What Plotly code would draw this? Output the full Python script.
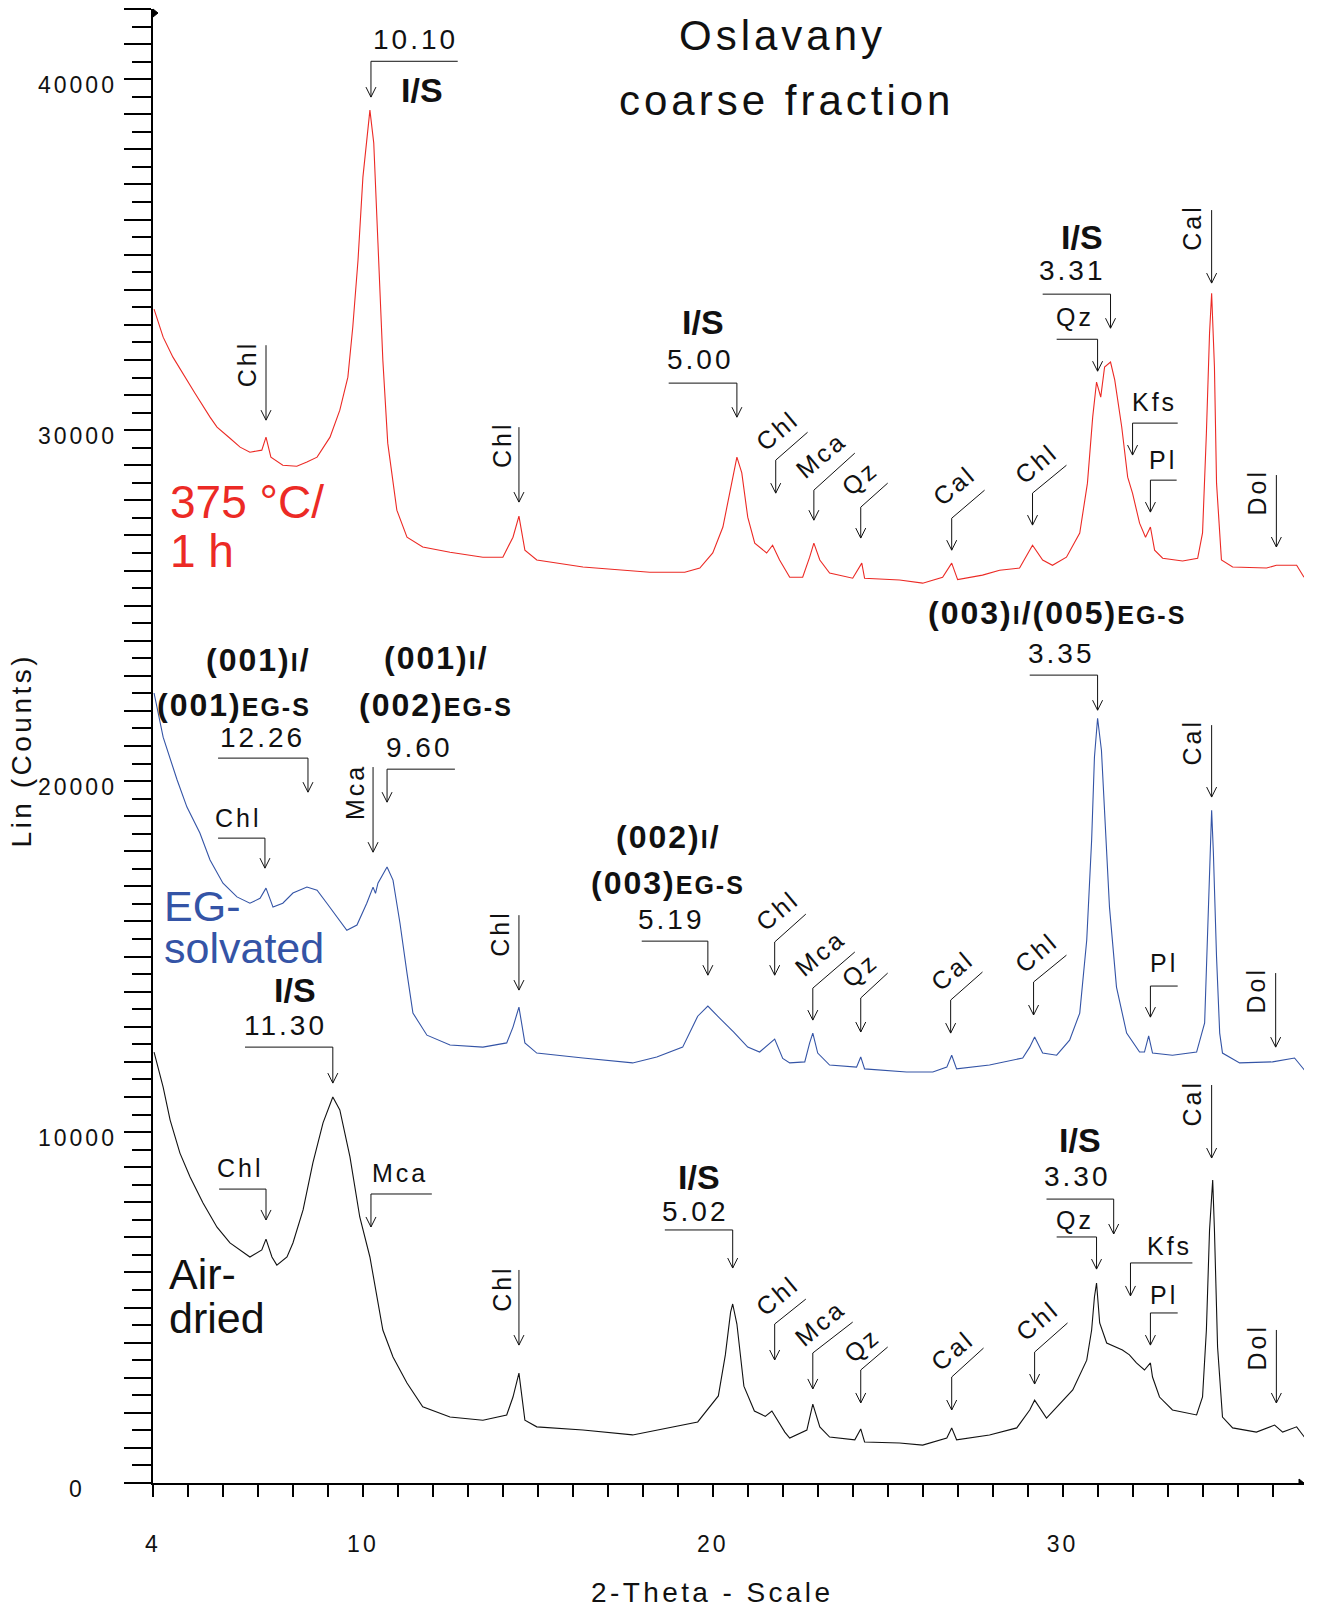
import plotly.graph_objects as go

# ---------------- data ----------------
red_theta = [4.03, 4.29, 4.57, 4.83, 5.2, 5.63, 5.83, 6.2, 6.49, 6.77, 7.11, 7.23, 7.37, 7.71, 8.11, 8.4, 8.69,
             9.06, 9.34, 9.57, 9.71, 9.86, 10.0, 10.2, 10.31, 10.43, 10.57, 10.71, 10.97, 11.26, 11.71, 12.49,
             13.43, 14.0, 14.29, 14.46, 14.63, 14.97, 16.29, 18.2, 19.2, 19.63, 20.0, 20.29, 20.54, 20.69, 20.83,
             21.0, 21.2, 21.54, 21.71, 21.91, 22.2, 22.57, 22.77, 22.89, 23.06, 23.34, 24.0, 24.26, 24.34, 25.34,
             26.0, 26.57, 26.83, 27.0, 27.71, 28.2, 28.77, 29.0, 29.14, 29.43, 29.71, 30.11, 30.49, 30.71, 30.86,
             30.97, 31.09, 31.2, 31.37, 31.49, 31.69, 31.86, 32.0, 32.2, 32.37, 32.51, 32.63, 32.86, 33.43, 33.86,
             34.0, 34.11, 34.2, 34.26, 34.34, 34.4, 34.54, 34.86, 35.83, 36.11, 36.69, 36.9]
red_counts = [33450, 32650, 32080, 31650, 31050, 30370, 30085, 29770, 29515, 29370, 29430, 29800, 29230, 29000,
              28970, 29090, 29230, 29800, 30570, 31510, 32930, 34840, 37210, 39120, 38180, 35330, 31990, 29630,
              27720, 26950, 26670, 26520, 26380, 26380, 26950, 27550, 26580, 26300, 26100, 25950, 25950, 26070,
              26500, 27240, 28490, 29230, 28780, 27520, 26780, 26500, 26720, 26300, 25810, 25810, 26380, 26780,
              26300, 25930, 25780, 26210, 25780, 25730, 25640, 25810, 26210, 25740, 25870, 26010, 26070, 26500,
              26720, 26300, 26150, 26380, 27070, 28490, 30370, 31370, 30940, 31800, 31940, 31430, 30090, 28660,
              28200, 27350, 26950, 27240, 26580, 26350, 26270, 26350, 27070, 29910, 32760, 33900, 31800, 28490,
              26300, 26100, 26070, 26150, 26150, 25810]

blue_theta = [4.03, 4.29, 4.69, 4.97, 5.34, 5.63, 6.0, 6.4, 6.77, 7.06, 7.23, 7.43, 7.71, 8.0, 8.4, 8.69, 8.97,
              9.26, 9.54, 9.83, 10.11, 10.29, 10.36, 10.43, 10.69, 10.86, 11.06, 11.26, 11.43, 11.83, 12.49, 13.43,
              14.11, 14.29, 14.46, 14.63, 14.97, 16.29, 17.71, 18.4, 19.14, 19.57, 19.86, 20.14, 20.6, 21.0, 21.34,
              21.77, 22.0, 22.2, 22.63, 22.77, 22.86, 23.0, 23.34, 24.11, 24.23, 24.34, 25.54, 26.29, 26.69, 26.83,
              26.97, 27.91, 28.86, 29.06, 29.2, 29.43, 29.83, 30.2, 30.49, 30.69, 30.83, 30.91, 31.0, 31.11, 31.2,
              31.34, 31.54, 31.83, 32.2, 32.34, 32.46, 32.57, 33.14, 33.83, 34.06, 34.14, 34.23, 34.26, 34.31, 34.4,
              34.49, 34.57, 35.06, 36.0, 36.63, 36.91]
blue_counts = [22510, 21250, 20030, 19260, 18520, 17750, 17090, 16700, 16520, 16660, 16950, 16410, 16520, 16810,
               16980, 16890, 16520, 16120, 15750, 15900, 16520, 16980, 16800, 17090, 17550, 17180, 15950, 14530,
               13390, 12760, 12480, 12420, 12540, 12990, 13560, 12540, 12250, 12110, 11970, 12140, 12420, 13300,
               13590, 13300, 12850, 12420, 12280, 12650, 12100, 11970, 12000, 12540, 12820, 12250, 11910, 11850,
               12140, 11800, 11710, 11710, 11850, 12190, 11800, 11910, 12110, 12420, 12710, 12250, 12190, 12620,
               13390, 15470, 18320, 20680, 21790, 20880, 19260, 16410, 14130, 12820, 12280, 12280, 12740, 12250,
               12190, 12280, 13110, 15470, 17830, 19170, 17950, 14990, 12820, 12250, 11970, 12000, 12110, 11770]

black_theta = [4.03, 4.29, 4.49, 4.77, 5.06, 5.43, 5.83, 6.2, 6.77, 7.11, 7.23, 7.4, 7.54, 7.83, 8.0, 8.29, 8.57,
               8.86, 9.14, 9.34, 9.63, 9.91, 10.2, 10.4, 10.57, 10.86, 11.26, 11.71, 12.49, 13.43, 14.11, 14.29,
               14.46, 14.63, 14.97, 16.29, 17.71, 19.57, 20.16, 20.36, 20.51, 20.57, 20.69, 20.89, 21.19, 21.5,
               21.69, 22.06, 22.2, 22.69, 22.86, 23.06, 23.34, 24.06, 24.23, 24.34, 25.34, 26.0, 26.69, 26.83,
               26.97, 27.91, 28.69, 29.06, 29.2, 29.54, 29.83, 30.29, 30.69, 30.83, 30.91, 30.97, 31.06, 31.26,
               31.71, 31.91, 32.11, 32.34, 32.51, 32.57, 32.77, 33.14, 33.83, 34.0, 34.11, 34.2, 34.29, 34.34,
               34.43, 34.57, 34.86, 35.54, 36.06, 36.29, 36.69, 36.91]
black_counts = [12280, 11280, 10340, 9400, 8720, 7980, 7290, 6840, 6440, 6640, 6950, 6440, 6210, 6440, 6840, 7780,
                9120, 10260, 11000, 10630, 9290, 7580, 6440, 5300, 4360, 3590, 2850, 2170, 1880, 1790, 1940, 2450,
                3130, 1790, 1600, 1510, 1370, 1740, 2480, 3650, 4870, 5100, 4530, 2760, 2050, 1900, 2050, 1450,
                1280, 1510, 2250, 1600, 1310, 1230, 1540, 1170, 1140, 1080, 1280, 1570, 1230, 1370, 1570, 2080,
                2360, 1850, 2170, 2650, 3500, 4360, 5300, 5700, 4560, 3990, 3790, 3650, 3420, 3220, 3420, 3020,
                2450, 2080, 1940, 2450, 4360, 7210, 8630, 7210, 3870, 1880, 1570, 1450, 1650, 1450, 1600, 1310]

x_tick_values = [4, 10, 20, 30]
y_tick_labels = [0, 10000, 20000, 30000, 40000]

# ---------------- style ----------------
RED, BLUE, BLACK = '#EC2A25', '#3454A6', '#111111'
FONT = 'Liberation Sans, Arial, Helvetica, sans-serif'
W, H = 1318, 1609
ML, MR, MT, MB = 153, 14, 9, 126
X_RANGE, Y_RANGE = [4, 36.9], [0, 42000]
PX_X = (X_RANGE[1] - X_RANGE[0]) / (W - ML - MR)
PX_Y = (Y_RANGE[1] - Y_RANGE[0]) / (H - MT - MB)


def sp(t, ls):
    return f'<span style="letter-spacing:{ls}px">{t}</span>'


fig = go.Figure()
for xs, ys, col in [(red_theta, red_counts, RED), (blue_theta, blue_counts, BLUE),
                    (black_theta, black_counts, BLACK)]:
    fig.add_trace(go.Scatter(x=xs, y=ys, mode='lines', line=dict(color=col, width=1.1),
                             hoverinfo='skip', showlegend=False))

# ---------------- peak markers: (x, top, tip, leader end) ----------------
markers = [
    # 375 C
    (7.23, 32420, 30285, None), (10.23, 40510, 39490, (12.71, 40510)), (14.46, 30085, 27950, None),
    (20.69, 31340, 30370, (18.74, 31340)), (21.80, 29145, 28205, (22.71, 29940)),
    (22.89, 28290, 27435, (24.06, 29345)), (24.23, 27805, 26925, (25.00, 28490)),
    (26.83, 27490, 26580, (27.77, 28290)), (29.14, 28205, 27295, (30.11, 29000)),
    (31.37, 33875, 32905, (29.43, 33875)), (31.00, 32590, 31680, (29.83, 32590)),
    (32.00, 30200, 29290, (33.29, 30200)), (32.51, 28575, 27665, (33.26, 28575)),
    (34.26, 36270, 34190, None), (36.11, 28720, 26670, None),
    # EG
    (8.43, 20655, 19685, (5.86, 20655)), (7.20, 18375, 17520, (5.86, 18375)),
    (10.69, 20340, 19400, (12.63, 20340)), (10.29, 20400, 17975, None), (14.46, 16180, 14045, None),
    (19.86, 15440, 14470, (17.97, 15440)), (21.77, 15415, 14470, (22.66, 16210)),
    (22.86, 14100, 13190, (24.06, 15130)), (24.23, 13820, 12850, (25.00, 14530)),
    (26.80, 13760, 12820, (27.71, 14560)), (29.17, 14275, 13335, (30.11, 15040)),
    (31.00, 23020, 22020, (29.06, 23020)), (32.51, 14160, 13275, (33.29, 14160)),
    (34.26, 21595, 19545, None), (36.09, 14530, 12420, None),
    # air dried
    (9.14, 12420, 11395, (6.63, 12420)), (7.23, 8375, 7495, (5.89, 8375)),
    (10.23, 8235, 7295, (11.97, 8235)), (14.46, 6070, 3930, None),
    (20.57, 7210, 6125, (18.63, 7210)), (21.77, 4530, 3505, (22.66, 5240)),
    (22.86, 3705, 2680, (24.00, 4585)), (24.23, 3220, 2280, (25.00, 3875)),
    (26.83, 3020, 2080, (27.74, 3845)), (29.20, 3730, 2820, (30.14, 4560)),
    (31.46, 8090, 7095, (29.54, 8090)), (30.97, 7010, 6095, (29.83, 7010)),
    (31.94, 6270, 5330, (33.71, 6270)), (32.51, 4845, 3930, (33.29, 4845)),
    (34.26, 11340, 9260, None), (36.11, 4360, 2280, None),
]
segs = []
for x, top, tip, lead in markers:
    segs.append(f'M{x},{top}L{x},{tip}')
    segs.append(f'M{x - 5 * PX_X},{tip + 10 * PX_Y}L{x},{tip}L{x + 5 * PX_X},{tip + 10 * PX_Y}')
    if lead:
        segs.append(f'M{x},{top}L{lead[0]},{lead[1]}')
fig.add_shape(type='path', path=''.join(segs), xref='x', yref='y',
              line=dict(color='#111111', width=1), fillcolor='rgba(0,0,0,0)')

# axis end flags
fig.add_shape(type='path', xref='paper', yref='paper',
              path=f'M0,1L{5 / 1151},{1 - 4 / 1474}L0,{1 - 8 / 1474}Z',
              line=dict(color='black', width=1), fillcolor='black')
fig.add_shape(type='path', xref='paper', yref='paper',
              path=f'M1,0L{1 - 5 / 1151},{4 / 1474}L{1 - 5 / 1151},0Z',
              line=dict(color='black', width=1), fillcolor='black')

# ---------------- labels ----------------
S_MIN = dict(size=25, ls=3, bold=False)
S_D = dict(size=28, ls=3, bold=False)
S_IS = dict(size=34, ls=0, bold=True)
S_HKL = dict(size=32, ls=2, bold=True)


def hkl(a, b):
    return f'({a})<span style="font-size:25px">{b}</span>'


labels = [
    # 375 C
    ('Chl', 6.69, 31880, S_MIN, -90, 'center'), ('10.10', 11.49, 41140, S_D, 0, 'center'),
    ('I/S', 11.69, 39690, S_IS, 0, 'center'), ('Chl', 13.97, 29600, S_MIN, -90, 'center'),
    ('I/S', 19.71, 33080, S_IS, 0, 'center'), ('5.00', 19.66, 32020, S_D, 0, 'center'),
    ('Chl', 21.86, 30000, S_MIN, -40, 'center'), ('Mca', 23.09, 29290, S_MIN, -40, 'center'),
    ('Qz', 24.20, 28630, S_MIN, -40, 'center'), ('Cal', 26.91, 28430, S_MIN, -40, 'center'),
    ('Chl', 29.26, 29060, S_MIN, -40, 'center'), ('I/S', 30.54, 35500, S_IS, 0, 'center'),
    ('3.31', 30.29, 34560, S_D, 0, 'center'), ('Qz', 30.34, 33220, S_MIN, 0, 'center'),
    ('Kfs', 32.63, 30800, S_MIN, 0, 'center'), ('Pl', 32.86, 29145, S_MIN, 0, 'center'),
    ('Cal', 33.71, 35780, S_MIN, -90, 'center'), ('Dol', 35.57, 28235, S_MIN, -90, 'center'),
    # EG
    (hkl('001', 'I') + '/', 8.57, 23445, S_HKL, 0, 'right'),
    (hkl('001', 'EG-S'), 8.57, 22165, S_HKL, 0, 'right'),
    ('12.26', 7.14, 21255, S_D, 0, 'center'), ('Chl', 6.43, 18945, S_MIN, 0, 'center'),
    (hkl('001', 'I') + '/', 12.11, 23500, S_HKL, 0, 'center'),
    (hkl('002', 'EG-S'), 12.09, 22165, S_HKL, 0, 'center'),
    ('9.60', 11.63, 20970, S_D, 0, 'center'), ('Mca', 9.77, 19685, S_MIN, -90, 'center'),
    ('Chl', 13.91, 15670, S_MIN, -90, 'center'),
    (hkl('002', 'I') + '/', 18.74, 18405, S_HKL, 0, 'center'),
    (hkl('003', 'EG-S'), 18.71, 17095, S_HKL, 0, 'center'),
    ('5.19', 18.83, 16070, S_D, 0, 'center'),
    ('Chl', 21.86, 16325, S_MIN, -40, 'center'), ('Mca', 23.06, 15100, S_MIN, -40, 'center'),
    ('Qz', 24.20, 14615, S_MIN, -40, 'center'), ('Cal', 26.86, 14615, S_MIN, -40, 'center'),
    ('Chl', 29.26, 15130, S_MIN, -40, 'center'),
    (hkl('003', 'I') + '/' + hkl('005', 'EG-S'), 29.83, 24785, S_HKL, 0, 'center'),
    ('3.35', 29.97, 23645, S_D, 0, 'center'), ('Pl', 32.89, 14815, S_MIN, 0, 'center'),
    ('Cal', 33.71, 21110, S_MIN, -90, 'center'), ('Dol', 35.54, 14045, S_MIN, -90, 'center'),
    # air dried
    ('I/S', 8.06, 14045, S_IS, 0, 'center'), ('11.30', 7.80, 13050, S_D, 0, 'center'),
    ('Chl', 6.51, 8975, S_MIN, 0, 'center'), ('Mca', 11.06, 8830, S_MIN, 0, 'center'),
    ('Chl', 13.97, 5555, S_MIN, -90, 'center'), ('I/S', 19.60, 8720, S_IS, 0, 'center'),
    ('5.02', 19.51, 7750, S_D, 0, 'center'),
    ('Chl', 21.86, 5355, S_MIN, -40, 'center'), ('Mca', 23.06, 4560, S_MIN, -40, 'center'),
    ('Qz', 24.26, 3930, S_MIN, -40, 'center'), ('Cal', 26.86, 3790, S_MIN, -40, 'center'),
    ('Chl', 29.29, 4645, S_MIN, -40, 'center'), ('I/S', 30.49, 9770, S_IS, 0, 'center'),
    ('3.30', 30.43, 8720, S_D, 0, 'center'), ('Qz', 30.34, 7495, S_MIN, 0, 'center'),
    ('Kfs', 33.06, 6750, S_MIN, 0, 'center'), ('Pl', 32.89, 5355, S_MIN, 0, 'center'),
    ('Cal', 33.71, 10825, S_MIN, -90, 'center'), ('Dol', 35.57, 3875, S_MIN, -90, 'center'),
]
for text, x, y, st, ang, xa in labels:
    t = sp(text, st['ls']) if st['ls'] else text
    if st['bold']:
        t = '<b>' + t + '</b>'
    fig.add_annotation(x=x, y=y, xref='x', yref='y', text=t, showarrow=False, textangle=ang,
                       xanchor=xa, yanchor='middle',
                       font=dict(family=FONT, size=st['size'], color='#111111'))

# sample names and title
big = [
    ('375 °C/', 4.43, 27950, RED, 46, 'left'), ('1 h', 4.43, 26550, RED, 46, 'left'),
    ('EG-', 4.26, 16440, BLUE, 43, 'left'), ('solvated', 4.26, 15250, BLUE, 43, 'left'),
    ('Air-', 4.40, 5950, BLACK, 43, 'left'), ('dried', 4.40, 4690, BLACK, 43, 'left'),
    (sp('Oslavany', 4), 22.0, 41240, BLACK, 42, 'center'),
    (sp('coarse fraction', 4), 22.1, 39400, BLACK, 42, 'center'),
]
for text, x, y, col, size, xa in big:
    fig.add_annotation(x=x, y=y, xref='x', yref='y', text=text, showarrow=False, xanchor=xa,
                       yanchor='middle', font=dict(family=FONT, size=size, color=col))

# y tick labels (centred like the original) and axis titles
for v in y_tick_labels:
    fig.add_annotation(x=(77 - ML) / (W - ML - MR), y=v, xref='paper', yref='y', text=sp(str(v), 3),
                       showarrow=False, xanchor='center', yanchor='middle', yshift=-6,
                       font=dict(family=FONT, size=23, color='#111111'))
fig.add_annotation(x=(21 - ML) / (W - ML - MR), y=0.497, xref='paper', yref='paper',
                   text=sp('Lin (Counts)', 3.5), textangle=-90, showarrow=False,
                   xanchor='center', yanchor='middle', font=dict(family=FONT, size=28, color='#111111'))
fig.add_annotation(x=0.486, y=-0.0746, xref='paper', yref='paper', text=sp('2-Theta - Scale', 3.4),
                   showarrow=False, xanchor='center', yanchor='middle',
                   font=dict(family=FONT, size=28, color='#111111'))

axis_common = dict(range=X_RANGE, showgrid=False, zeroline=False, fixedrange=True)
fig.update_layout(
    width=W, height=H, margin=dict(l=ML, r=MR, t=MT, b=MB),
    paper_bgcolor='white', plot_bgcolor='white', showlegend=False,
    xaxis=dict(**axis_common, showline=True, linecolor='black', linewidth=1.5,
               tickmode='array', tickvals=x_tick_values,
               ticktext=[sp(str(v), 3) for v in x_tick_values],
               ticks='outside', ticklen=12, tickwidth=1.5, tickcolor='black',
               ticklabelstandoff=28,
               tickfont=dict(family=FONT, size=23, color='#111111'),
               minor=dict(ticks='outside', tick0=4, dtick=1, ticklen=12, tickwidth=1.5,
                          tickcolor='black', showgrid=False)),
    xaxis2=dict(**axis_common, overlaying='x', anchor='y', side='bottom', showline=False,
                tickmode='array', tickvals=[5, 10, 15, 20, 25, 30, 35], showticklabels=False,
                ticks='outside', ticklen=18, tickwidth=1.5, tickcolor='black'),
    xaxis3=dict(**axis_common, overlaying='x', anchor='y', side='bottom', showline=False,
                tickmode='array', tickvals=[10, 20, 30], showticklabels=False,
                ticks='outside', ticklen=24, tickwidth=1.5, tickcolor='black'),
    yaxis=dict(range=Y_RANGE, showgrid=False, zeroline=False, fixedrange=True,
               showline=True, linecolor='black', linewidth=1.5,
               tickmode='array', tickvals=list(range(0, 42001, 1000)), showticklabels=False,
               ticks='outside', ticklen=27, tickwidth=1.5, tickcolor='black',
               minor=dict(ticks='outside', tick0=0, dtick=500, ticklen=19, tickwidth=1.5,
                          tickcolor='black', showgrid=False)),
)

fig.write_html('out.html', config={'displayModeBar': False},
               post_script="document.body.style.margin='0';")
